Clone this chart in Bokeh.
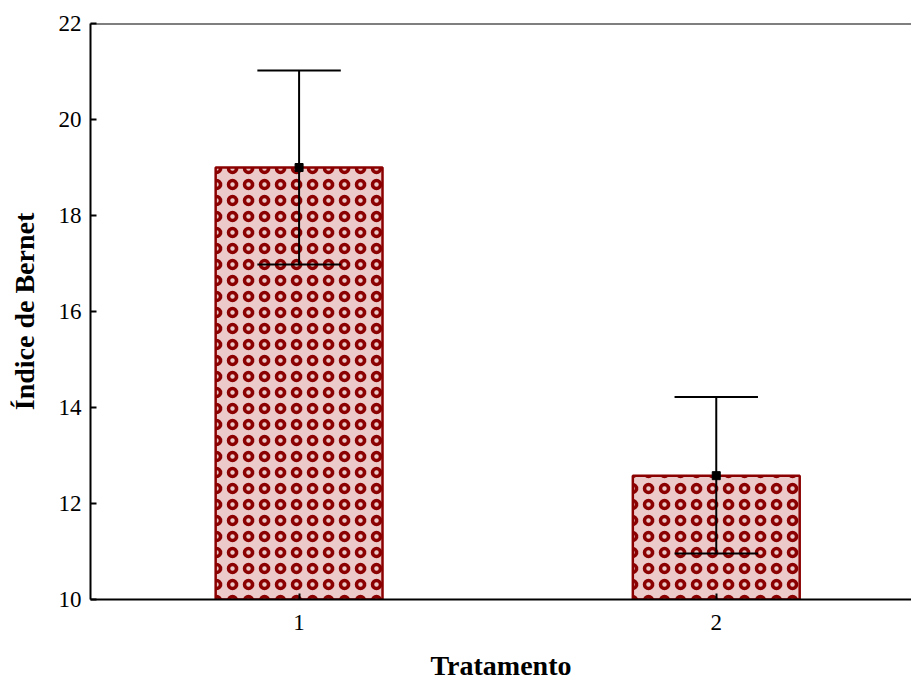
from bokeh.plotting import figure
from bokeh.models import Range1d, FixedTicker, Span, ColumnDataSource
from bokeh.embed import file_html
from bokeh.resources import INLINE

tratamento = [1, 2]
media = [19.0, 12.58]
superior = [21.02, 14.22]
inferior = [16.98, 10.96]
y_ticks = [10, 12, 14, 16, 18, 20, 22]
x_ticks = [1, 2]

FONT = "Liberation Serif"
DARK_RED = "#8B0000"

p = figure(width=911, height=683, output_backend="svg", toolbar_location=None,
           x_range=Range1d(0.5, 2.468), y_range=Range1d(10, 22),
           min_border_left=90, min_border_right=0, min_border_top=23,
           min_border_bottom=83)
p.outline_line_color = None
p.grid.grid_line_color = None
p.background_fill_color = "white"

src = ColumnDataSource(dict(x=tratamento, top=media, up=superior, lo=inferior,
                            capl=[t - 0.1 for t in tratamento],
                            capr=[t + 0.1 for t in tratamento]))

p.vbar(x="x", top="top", bottom=10, width=0.4, source=src,
       fill_color="#eccaca", line_color=DARK_RED, line_width=2.5,
       hatch_pattern="ring", hatch_color=DARK_RED, hatch_scale=16, hatch_weight=3.5)

p.segment(x0="x", y0="lo", x1="x", y1="up", source=src, line_color="black", line_width=2)
p.segment(x0="capl", y0="up", x1="capr", y1="up", source=src, line_color="black", line_width=2)
p.segment(x0="capl", y0="lo", x1="capr", y1="lo", source=src, line_color="black", line_width=2)
p.scatter(x="x", y="top", source=src, marker="square", size=8, color="black")

p.add_layout(Span(location=22, dimension="width", line_color="black", line_width=2))

for ax in (p.xaxis[0], p.yaxis[0]):
    ax.axis_line_color = "black"
    ax.axis_line_width = 2
    ax.major_tick_in = 6
    ax.major_tick_out = 0
    ax.major_tick_line_width = 2
    ax.minor_tick_line_color = None
    ax.major_label_text_font = FONT
    ax.major_label_text_font_size = "23px"
    ax.major_label_text_color = "black"
    ax.axis_label_text_font = FONT
    ax.axis_label_text_font_style = "bold"
    ax.axis_label_text_font_size = "28px"
    ax.axis_label_text_color = "black"

p.xaxis.ticker = FixedTicker(ticks=x_ticks)
p.yaxis.ticker = FixedTicker(ticks=y_ticks)
p.xaxis.major_label_standoff = 15
p.yaxis.major_label_standoff = 9

p.yaxis.axis_label = "Índice de Bernet"
p.yaxis.axis_label_standoff = 16
p.xaxis.axis_label = "Tratamento"
p.xaxis.axis_label_standoff = 17

open("out.html", "w").write(file_html(p, INLINE))
